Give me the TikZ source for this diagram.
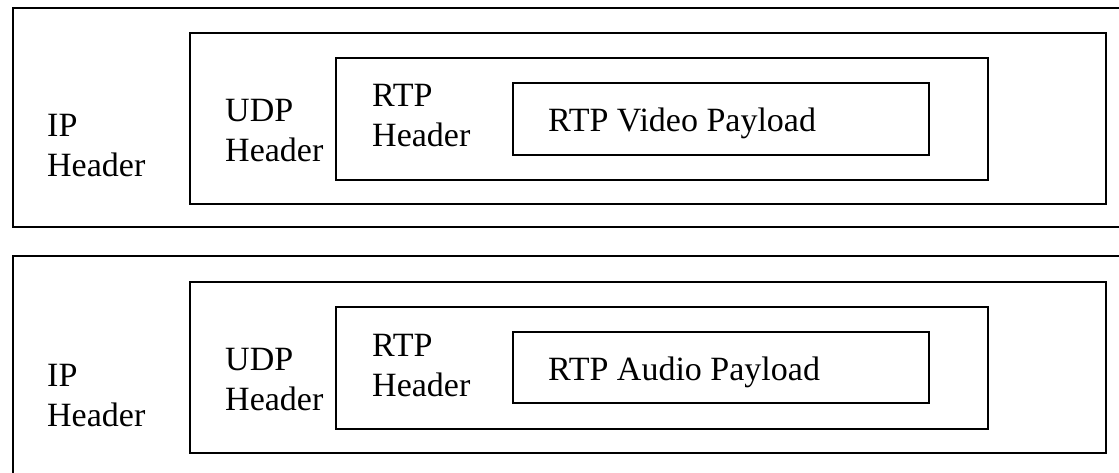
\documentclass[tikz,border=0pt]{standalone}
\usepackage{fontspec}
\setmainfont{Liberation Serif}
\usetikzlibrary{fit}
\begin{document}
\begin{tikzpicture}[x=1bp,y=-1bp,
  layer/.style={draw=black, line width=2.6bp, inner sep=0pt, fit={#1}},
  lbl/.style={anchor=base west, inner sep=0pt, align=left,
    font=\fontsize{34bp}{40bp}\selectfont}]
  \useasboundingbox (0,0) rectangle (1119,473);
  \clip (0,0) rectangle (1119,473);

  % video packet (label nodes sit on the baseline of their last line)
  \node[layer={(13,8)(1130,227)}] (ipV) {};
  \node[layer={(190,33)(1106,204)}] (udpV) {};
  \node[layer={(336,58)(988,180)}] (rtpV) {};
  \node[layer={(513,83)(929,155)}] (payV) {};
  \node[lbl] (ipVt) at (47,177) {IP\\Header};
  \node[lbl] (udpVt) at (225,162) {UDP\\Header};
  \node[lbl] (rtpVt) at (372,147) {RTP\\Header};
  \node[lbl] (payVt) at (548,132) {RTP Video Payload};

  % audio packet
  \node[layer={(13,256)(1130,490)}] (ipA) {};
  \node[layer={(190,282)(1106,453)}] (udpA) {};
  \node[layer={(336,307)(988,429)}] (rtpA) {};
  \node[layer={(513,332)(929,403)}] (payA) {};
  \node[lbl] (ipAt) at (47,427) {IP\\Header};
  \node[lbl] (udpAt) at (225,411) {UDP\\Header};
  \node[lbl] (rtpAt) at (372,397) {RTP\\Header};
  \node[lbl] (payAt) at (548,381) {RTP Audio Payload};
\end{tikzpicture}
\end{document}
